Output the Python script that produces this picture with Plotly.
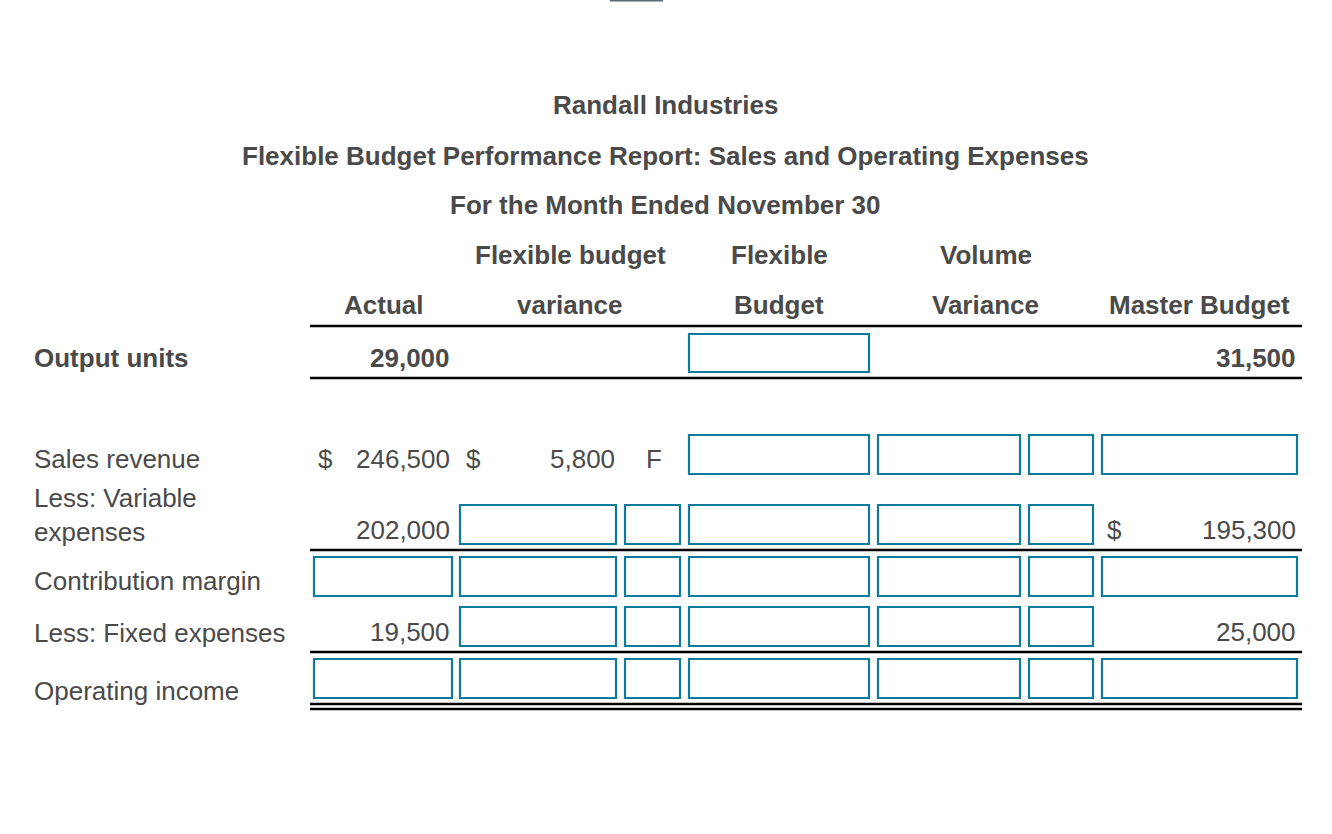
import plotly.graph_objects as go

# ---- report content -------------------------------------------------------
TITLE_LINES = [
    "Randall Industries",
    "Flexible Budget Performance Report: Sales and Operating Expenses",
    "For the Month Ended November 30",
]

HEADERS_TOP = ["", "Flexible budget", "Flexible", "Volume", ""]
HEADERS_BOTTOM = ["Actual", "variance", "Budget", "Variance", "Master Budget"]

ROW_LABELS = [
    "Output units",
    "Sales revenue",
    "Less: Variable<br>expenses",
    "Contribution margin",
    "Less: Fixed expenses",
    "Operating income",
]

ACTUAL = ["29,000", "246,500", "202,000", None, "19,500", None]
FLEX_VARIANCE = [None, "5,800", None, None, None, None]
FLEX_VARIANCE_FU = [None, "F", None, None, None, None]
MASTER = ["31,500", None, "195,300", None, "25,000", None]

# "$" prefix per row: actual column, variance column, master column
DOLLAR_ACTUAL = [False, True, False, False, False, False]
DOLLAR_VARIANCE = [False, True, False, False, False, False]
DOLLAR_MASTER = [False, False, True, False, False, False]

# blank answer boxes, 7 slots per row:
# actual, fbv amount, fbv F/U, flexible budget, volume variance, vv F/U, master
INPUT_BOXES = [
    [0, 0, 0, 1, 0, 0, 0],
    [0, 0, 0, 1, 1, 1, 1],
    [0, 1, 1, 1, 1, 1, 0],
    [1, 1, 1, 1, 1, 1, 1],
    [0, 1, 1, 1, 1, 1, 0],
    [1, 1, 1, 1, 1, 1, 1],
]

# ---- layout (pixels) ------------------------------------------------------
W, H = 1332, 834
TEXT = "#4a4a4a"
BOX = "#0f7b9c"
FONT = "Liberation Sans, Arial, Helvetica, sans-serif"
FS = 26

SLOTS = [(314, 452), (460, 616), (625, 680), (689, 869), (878, 1020), (1029, 1093), (1102, 1297)]
GROUPS = [(314, 452), (460, 680), (689, 869), (878, 1093), (1102, 1297)]
BOX_Y = [(334, 372), (435, 474), (505, 544), (557, 596), (607, 646), (659, 698)]
LABEL_Y = [358, 459, 515, 581, 633, 691]
VALUE_Y = [358, 459, 530, 581, 632, 691]
TITLE_Y = [105, 156, 205]
HEAD_Y = [255, 305]
RULES = [326, 378, 550, 652, 704, 709]
RULE_X = (310, 1302)

fig = go.Figure()
ann = []


def text(x, y, s, anchor="left", bold=False):
    ann.append(dict(
        x=x, y=y, text=f"<b>{s}</b>" if bold else s, showarrow=False,
        xanchor=anchor, yanchor="middle", align=anchor,
        font=dict(family=FONT, size=FS, color=TEXT), borderpad=0,
    ))


for y, t in zip(TITLE_Y, TITLE_LINES):
    text(665, y, t, "center", bold=True)

for (x0, x1), top, bot in zip(GROUPS, HEADERS_TOP, HEADERS_BOTTOM):
    cx = (x0 + x1) / 2
    if top:
        text(cx, HEAD_Y[0], top, "center", bold=True)
    text(cx, HEAD_Y[1], bot, "center", bold=True)

for i, label in enumerate(ROW_LABELS):
    bold = i == 0
    text(33, LABEL_Y[i], label, "left", bold=bold)
    vy = VALUE_Y[i]
    if ACTUAL[i]:
        text(SLOTS[0][1] - 1, vy, ACTUAL[i], "right", bold=bold)
    if DOLLAR_ACTUAL[i]:
        text(SLOTS[0][0] + 3, vy, "$", "left")
    if DOLLAR_VARIANCE[i]:
        text(SLOTS[1][0] + 5, vy, "$", "left")
    if FLEX_VARIANCE[i]:
        text(SLOTS[1][1], vy, FLEX_VARIANCE[i], "right")
    if FLEX_VARIANCE_FU[i]:
        text(SLOTS[2][0] + 20, vy, FLEX_VARIANCE_FU[i], "left")
    if MASTER[i]:
        text(SLOTS[6][1], vy, MASTER[i], "right", bold=bold)
    if DOLLAR_MASTER[i]:
        text(SLOTS[6][0] + 4, vy, "$", "left")

shapes = []
for r, row in enumerate(INPUT_BOXES):
    y0, y1 = BOX_Y[r]
    for c, on in enumerate(row):
        if on:
            x0, x1 = SLOTS[c]
            shapes.append(dict(type="rect", xref="x", yref="y", x0=x0, x1=x1, y0=y0, y1=y1,
                               line=dict(color=BOX, width=2.2), fillcolor="white"))

for y in RULES:
    shapes.append(dict(type="line", xref="x", yref="y", x0=RULE_X[0], x1=RULE_X[1], y0=y, y1=y,
                       line=dict(color="black", width=2.5)))

# small tab at the very top of the page
shapes.append(dict(type="rect", xref="x", yref="y", x0=610, x1=663, y0=0, y1=1.5,
                   line=dict(width=0), fillcolor="#5b6b7a"))

fig.update_layout(
    width=W, height=H,
    margin=dict(l=0, r=0, t=0, b=0),
    paper_bgcolor="white", plot_bgcolor="white",
    xaxis=dict(range=[0, W], visible=False, fixedrange=True),
    yaxis=dict(range=[H, 0], visible=False, fixedrange=True),
    showlegend=False,
    annotations=ann,
    shapes=shapes,
)

# drop the default page margin so figure pixels line up with the window
fig.write_html("out.html", config=dict(displayModeBar=False),
               post_script="document.body.style.margin='0';document.body.style.overflow='hidden';")
